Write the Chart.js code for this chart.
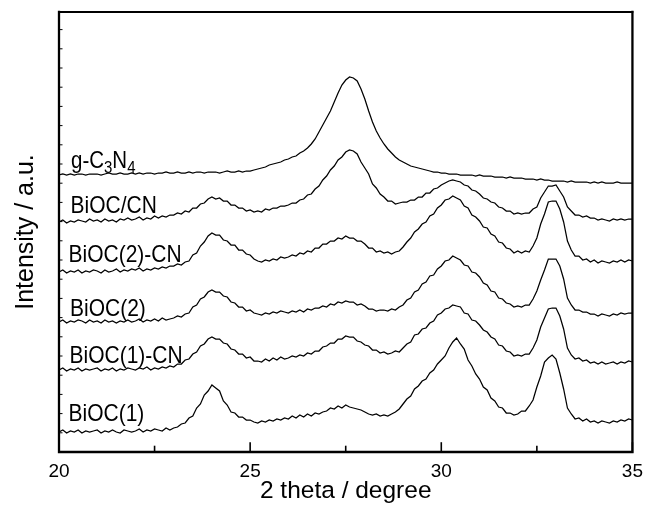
<!DOCTYPE html>
<html>
<head>
<meta charset="utf-8">
<script src="https://cdn.jsdelivr.net/npm/chart.js@4.4.1/dist/chart.umd.min.js"></script>
<style>
  html, body { margin: 0; padding: 0; background: #fff; }
  #xrd { display: block; }
</style>
</head>
<body>
<canvas id="xrd" width="651" height="512"></canvas>
<script>
// 2 theta grid (degrees), one reading every 0.1 deg from 20 to 35
const thetaStart = 20;
const thetaStep = 0.1;
const thetaCount = 151;
const twoTheta = Array.from({ length: thetaCount }, (_, i) => +(thetaStart + i * thetaStep).toFixed(1));

const xTicks = [20, 25, 30, 35];
const xMinorTicks = [22.5, 27.5, 32.5];

// intensities (stacked, arbitrary units)
const gC3N4 = [
  277, 278, 277, 278, 277, 278, 278, 277, 278, 278,
  278, 277, 278, 279, 278, 278, 279, 278, 278, 279,
  278, 279, 278, 279, 279, 278, 279, 279, 280, 279,
  279, 280, 279, 279, 280, 279, 280, 280, 279, 280,
  280, 280, 279, 280, 281, 280, 280, 281, 280, 281,
  281, 282, 283, 284, 285, 287, 288, 289, 290, 292,
  293, 295, 296, 299, 301, 304, 308, 313, 320, 327,
  334, 341, 350, 359, 367, 372, 375, 374, 371, 363,
  353, 341, 330, 321, 314, 308, 303, 299, 295, 292,
  290, 288, 286, 285, 284, 283, 282, 281, 280, 280,
  279, 279, 278, 278, 278, 277, 277, 277, 277, 276,
  277, 276, 276, 276, 275, 275, 275, 274, 275, 274,
  274, 274, 273, 273, 273, 272, 273, 272, 272, 271,
  271, 271, 271, 270, 271, 270, 270, 270, 270, 269,
  270, 269, 270, 269, 269, 269, 270, 269, 269, 269, 269
];
const biocCN = [
  230, 232, 229, 231, 230, 232, 231, 230, 233, 231,
  232, 230, 233, 231, 232, 230, 233, 232, 234, 232,
  233, 235, 232, 234, 233, 236, 234, 236, 235, 237,
  237, 239, 238, 241, 240, 244, 244, 248, 249, 253,
  255, 253, 254, 251, 251, 247, 247, 244, 244, 241,
  242, 240, 241, 240, 243, 242, 244, 244, 246, 246,
  247, 249, 249, 252, 253, 257, 258, 263, 266, 272,
  276, 282, 286, 292, 295, 300, 302, 301, 298, 290,
  284, 278, 268, 264, 258, 255, 251, 251, 248, 249,
  250, 250, 252, 252, 255, 255, 259, 259, 263, 264,
  267, 269, 271, 272, 271, 270, 267, 266, 262, 261,
  258, 254, 253, 250, 249, 245, 244, 241, 241, 238,
  239, 238, 239, 239, 243, 245, 254, 260, 266, 266,
  267, 261, 255, 245, 241, 237, 237, 235, 236, 234,
  234, 232, 233, 232, 231, 233, 232, 233, 232, 233, 233
];
const bioc2CN = [
  180, 182, 179, 181, 180, 182, 179, 181, 180, 182,
  181, 179, 182, 180, 181, 183, 180, 182, 181, 183,
  182, 184, 181, 183, 182, 184, 183, 185, 184, 186,
  186, 188, 187, 190, 191, 197, 199, 206, 210, 216,
  219, 217, 217, 212, 211, 207, 207, 202, 202, 198,
  197, 193, 191, 190, 192, 191, 193, 192, 195, 194,
  195, 197, 196, 199, 198, 201, 200, 204, 204, 208,
  208, 211, 211, 214, 213, 216, 214, 214, 211, 211,
  208, 204, 204, 200, 201, 199, 200, 198, 200, 201,
  205, 210, 214, 220, 223, 228, 230, 236, 238, 244,
  247, 252, 253, 256, 254, 252, 246, 244, 237, 235,
  231, 225, 224, 218, 216, 210, 209, 204, 203, 199,
  201, 199, 201, 200, 206, 214, 228, 238, 250, 251,
  251, 243, 230, 211, 202, 196, 196, 192, 193, 190,
  192, 189, 191, 190, 189, 191, 190, 192, 190, 192, 191
];
const bioc2 = [
  130, 132, 129, 131, 130, 132, 131, 129, 132, 130,
  131, 129, 132, 130, 131, 129, 131, 130, 132, 130,
  131, 133, 130, 132, 131, 133, 131, 134, 132, 133,
  134, 136, 135, 138, 139, 145, 147, 153, 155, 160,
  162, 160, 160, 156, 155, 150, 149, 145, 145, 141,
  142, 139, 138, 137, 139, 138, 140, 139, 141, 140,
  139, 141, 140, 142, 140, 143, 142, 144, 144, 146,
  145, 148, 147, 150, 149, 151, 150, 150, 147, 148,
  146, 143, 143, 141, 142, 142, 141, 143, 142, 145,
  147, 152, 154, 160, 162, 168, 170, 176, 177, 183,
  186, 191, 192, 196, 194, 192, 187, 186, 180, 179,
  175, 169, 167, 161, 160, 154, 153, 149, 148, 145,
  146, 145, 147, 147, 153, 161, 172, 182, 193, 193,
  193, 186, 173, 154, 147, 142, 142, 140, 140, 138,
  138, 136, 138, 137, 136, 138, 137, 139, 138, 139, 139
];
const bioc1CN = [
  82, 84, 81, 83, 82, 84, 81, 83, 82, 83,
  84, 81, 83, 82, 84, 81, 83, 82, 84, 83,
  82, 84, 83, 85, 82, 84, 83, 85, 84, 86,
  85, 88, 88, 92, 93, 98, 100, 106, 108, 113,
  115, 113, 113, 109, 108, 103, 102, 98, 98, 94,
  95, 91, 91, 90, 93, 91, 94, 92, 95, 93,
  94, 96, 95, 97, 96, 99, 98, 101, 101, 105,
  106, 109, 109, 113, 113, 116, 115, 115, 111, 110,
  107, 106, 102, 102, 99, 100, 98, 99, 101, 100,
  104, 108, 110, 117, 118, 123, 124, 129, 131, 137,
  139, 143, 144, 147, 146, 145, 139, 138, 132, 131,
  127, 122, 120, 115, 113, 107, 106, 101, 100, 96,
  97, 96, 98, 98, 104, 112, 125, 134, 143, 144,
  144, 136, 123, 104, 97, 93, 94, 91, 92, 89,
  90, 88, 90, 88, 89, 90, 88, 90, 89, 91, 90
];
const bioc1 = [
  20, 22, 19, 21, 20, 22, 19, 21, 20, 21,
  22, 19, 21, 20, 22, 20, 19, 22, 21, 20,
  21, 23, 20, 22, 21, 23, 22, 21, 24, 22,
  24, 25, 28, 29, 34, 36, 44, 48, 57, 61,
  67, 64, 61, 51, 47, 40, 39, 35, 35, 32,
  32, 30, 29, 31, 30, 32, 31, 33, 32, 34,
  33, 36, 34, 37, 35, 38, 36, 39, 38, 40,
  41, 44, 43, 46, 44, 47, 45, 44, 43, 42,
  40, 38, 37, 38, 36, 37, 36, 38, 40, 43,
  48, 53, 56, 63, 66, 71, 73, 79, 82, 88,
  92, 96, 104, 110, 114, 108, 103, 92, 86, 78,
  73, 65, 62, 54, 51, 45, 44, 39, 39, 37,
  38, 41, 41, 46, 52, 65, 76, 90, 94, 97,
  93, 79, 63, 44, 38, 33, 34, 31, 33, 30,
  31, 29, 31, 30, 29, 31, 30, 32, 31, 33, 32
];

const seriesList = [gC3N4, biocCN, bioc2CN, bioc2, bioc1CN, bioc1];
const seriesNames = ['g-C3N4', 'BiOC/CN', 'BiOC(2)-CN', 'BiOC(2)', 'BiOC(1)-CN', 'BiOC(1)'];

const FONT = "'Liberation Sans', Arial, Helvetica, sans-serif";

// sample names written at the left end of each trace (left x, baseline y)
const namePlaces = [
  [71, 167.5], [70.5, 212.5], [68.5, 261.5], [70, 316], [69.5, 362.5], [68.5, 420.5]
];

// text in the original is a little taller than plain Arial
function tallText(ctx, txt, x, y, stretch) {
  ctx.save();
  ctx.translate(x, y);
  ctx.scale(1, stretch);
  ctx.fillText(txt, 0, 0);
  ctx.restore();
}

const framePlugin = {
  id: 'frame',
  afterDatasetsDraw(chart) {
    const { ctx, chartArea: a, scales } = chart;
    const xs = scales.x, ys = scales.y;
    ctx.save();
    ctx.strokeStyle = '#000';
    ctx.lineCap = 'square';

    // frame
    ctx.lineWidth = 1.8;
    ctx.beginPath();
    ctx.moveTo(a.left, a.top); ctx.lineTo(a.right, a.top);
    ctx.stroke();
    ctx.lineWidth = 2.3;
    ctx.beginPath();
    ctx.moveTo(a.left, a.top); ctx.lineTo(a.left, a.bottom);
    ctx.lineTo(a.right, a.bottom); ctx.lineTo(a.right, a.top);
    ctx.stroke();

    // inward ticks on the bottom axis
    ctx.lineWidth = 1.6;
    xTicks.forEach(v => {
      const px = xs.getPixelForValue(v);
      ctx.beginPath(); ctx.moveTo(px, a.bottom); ctx.lineTo(px, a.bottom - 9); ctx.stroke();
    });
    xMinorTicks.forEach(v => {
      const px = xs.getPixelForValue(v);
      ctx.beginPath(); ctx.moveTo(px, a.bottom); ctx.lineTo(px, a.bottom - 5.5); ctx.stroke();
    });

    // small inward ticks on the left axis
    ctx.lineWidth = 1;
    ys.ticks.forEach(t => {
      if (t.value <= 0 || t.value > 430) return;
      const py = ys.getPixelForValue(t.value);
      ctx.beginPath(); ctx.moveTo(a.left, py); ctx.lineTo(a.left + 3, py); ctx.stroke();
    });

    // sample names
    ctx.fillStyle = '#000';
    ctx.textBaseline = 'alphabetic';
    ctx.textAlign = 'left';
    seriesNames.forEach((name, i) => {
      let [x, y] = namePlaces[i];
      if (name === 'g-C3N4') {
        const parts = [['g-C', 0], ['3', 1], ['N', 0], ['4', 1]];
        parts.forEach(([txt, sub]) => {
          ctx.font = (sub ? '15px ' : '20.5px ') + FONT;
          tallText(ctx, txt, x, sub ? y + 5.5 : y, 1.13);
          x += ctx.measureText(txt).width;
        });
      } else {
        ctx.font = '21px ' + FONT;
        tallText(ctx, name, x, y, 1.13);
      }
    });
    ctx.restore();
  }
};

new Chart(document.getElementById('xrd'), {
  type: 'line',
  data: {
    datasets: seriesList.map((arr, i) => ({
      label: seriesNames[i],
      data: twoTheta.map((t, j) => ({ x: t, y: arr[j] })),
      borderColor: '#000',
      borderWidth: 1.25,
      pointRadius: 0,
      tension: 0,
      fill: false
    }))
  },
  options: {
    responsive: false,
    animation: false,
    events: [],
    layout: { padding: { top: 12, right: 14, left: 0, bottom: 0 } },
    plugins: { legend: { display: false }, tooltip: { enabled: false } },
    scales: {
      x: {
        type: 'linear',
        min: 20,
        max: 35,
        grid: { display: false, drawTicks: false },
        border: { display: false },
        ticks: {
          stepSize: 5,
          color: '#000',
          padding: 8,
          font: { family: FONT, size: 19 }
        },
        title: {
          display: true,
          text: '2 theta / degree',
          color: '#000',
          font: { family: FONT, size: 24.5 },
          padding: { top: 0, bottom: 6 }
        },
        afterFit: s => { s.height = 60; }
      },
      y: {
        min: 0,
        max: 440,
        grid: { display: false, drawTicks: false },
        border: { display: false },
        ticks: { display: false, stepSize: 19.2 },
        title: {
          display: true,
          text: 'Intensity / a.u.',
          color: '#000',
          font: { family: FONT, size: 25 },
          padding: { top: 11, bottom: 0 }
        },
        afterFit: s => { s.width = 59; }
      }
    }
  },
  plugins: [framePlugin]
});
</script>
</body>
</html>
